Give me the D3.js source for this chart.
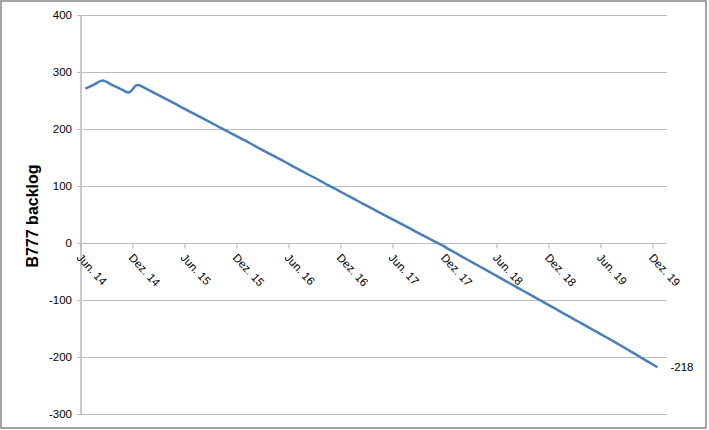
<!DOCTYPE html>
<html lang="de">
<head>
    <meta charset="UTF-8">
    <title>B777 backlog</title>
    <script src="https://cdn.jsdelivr.net/npm/d3@7"></script>
    <style>
        body {
            margin: 0;
            background: #fff;
        }

        #chart svg {
            display: block;
        }

        .tick-label {
            font-family: "Liberation Sans", Arial, sans-serif;
            font-size: 11.5px;
            fill: #000;
        }
    </style>
</head>
<body>
<div id="chart"></div>

<script>
    const width = 709
    const height = 430

    // monthly backlog, Jun. 14 .. Dez. 19
    const backlog = [
        271, 278, 285, 278, 271, 264, 277, 271, 263, 255, 247, 239,
        231, 223, 215, 207, 199, 191, 183, 175, 166.5, 158.5, 150.5, 142.5,
        134, 126, 118, 110, 101.5, 93.5, 85.5, 77.5, 69, 61, 53, 45,
        37, 29, 21, 13, 5, -3, -11.5, -20, -28.5, -37, -45.5, -54,
        -62.5, -71, -79.5, -88, -96.5, -105, -113.5, -122, -130.5, -139, -147.5, -156,
        -164.5, -173, -182, -191, -200, -209, -218
    ]
    const xTickLabels = [
        "Jun. 14", "Dez. 14", "Jun. 15", "Dez. 15", "Jun. 16", "Dez. 16",
        "Jun. 17", "Dez. 17", "Jun. 18", "Dez. 18", "Jun. 19", "Dez. 19"
    ]
    const yTicks = [-300, -200, -100, 0, 100, 200, 300, 400]
    const yTitle = "B777 backlog"

    const plot = {left: 81, right: 667, top: 15, bottom: 414}

    const svg = d3.select("#chart").append("svg")
        .attr("width", width)
        .attr("height", height)

    // outer frame
    svg.append("rect")
        .attr("x", 1)
        .attr("y", 1)
        .attr("width", 705)
        .attr("height", 427)
        .attr("fill", "#fff")
        .attr("stroke", "#868686")
        .attr("stroke-width", 1.5)

    const x = d3.scaleLinear()
        .domain([0, 67.6])
        .range([plot.left, plot.right])

    const y = d3.scaleLinear()
        .domain([-300, 400])
        .range([plot.bottom, plot.top])

    // horizontal grid
    svg.append("g")
        .selectAll("line")
        .data(yTicks)
        .enter().append("line")
        .attr("x1", plot.left - 4)
        .attr("x2", plot.right)
        .attr("y1", (d) => Math.round(y(d)) + 0.5)
        .attr("y2", (d) => Math.round(y(d)) + 0.5)
        .attr("stroke", "#bcbcbc")
        .attr("stroke-width", 1.2)

    // y axis labels
    svg.append("g")
        .selectAll("text")
        .data(yTicks)
        .enter().append("text")
        .attr("class", "tick-label")
        .attr("x", plot.left - 9)
        .attr("y", (d) => y(d))
        .attr("dy", "0.36em")
        .attr("text-anchor", "end")
        .text((d) => d)

    // y axis line
    svg.append("line")
        .attr("x1", plot.left)
        .attr("x2", plot.left)
        .attr("y1", plot.top)
        .attr("y2", plot.bottom)
        .attr("stroke", "#c8c8c8")
        .attr("stroke-width", 2)

    // x axis at zero
    const y0 = Math.round(y(0)) + 0.5
    const xTicks = xTickLabels.map((d, i) => ({label: d, m: i * 6}))

    svg.append("g")
        .selectAll("line")
        .data(xTicks)
        .enter().append("line")
        .attr("x1", (d) => x(d.m))
        .attr("x2", (d) => x(d.m))
        .attr("y1", y0)
        .attr("y2", y0 + 5)
        .attr("stroke", "#bcbcbc")
        .attr("stroke-width", 1.2)

    svg.append("line")
        .attr("x1", plot.left)
        .attr("x2", plot.right)
        .attr("y1", y0)
        .attr("y2", y0)
        .attr("stroke", "#bcbcbc")
        .attr("stroke-width", 1.2)

    svg.append("g")
        .selectAll("text")
        .data(xTicks)
        .enter().append("text")
        .attr("class", "tick-label")
        .attr("transform", (d) => `translate(${x(d.m) - 2}, ${y0 + 12}) rotate(47)`)
        .attr("dy", "0.35em")
        .attr("text-anchor", "start")
        .text((d) => d.label)

    // backlog line, points centred in their month
    const line = d3.line()
        .x((d, i) => x(i + 0.5))
        .y((d) => y(d))
        .curve(d3.curveMonotoneX)

    svg.append("path")
        .datum(backlog)
        .attr("d", line)
        .attr("fill", "none")
        .attr("stroke", "#4a7ebb")
        .attr("stroke-width", 2.5)
        .attr("stroke-linejoin", "round")

    // last value label
    const last = backlog.length - 1
    svg.append("text")
        .attr("class", "tick-label")
        .attr("x", x(last + 0.5) + 13)
        .attr("y", y(backlog[last]))
        .attr("dy", "0.36em")
        .text(backlog[last])

    // y axis title
    svg.append("text")
        .attr("transform", `translate(38, 216) rotate(-90)`)
        .attr("text-anchor", "middle")
        .style("font-family", "'Liberation Sans', Arial, sans-serif")
        .style("font-size", "16px")
        .style("font-weight", "bold")
        .text(yTitle)
</script>
</body>
</html>
